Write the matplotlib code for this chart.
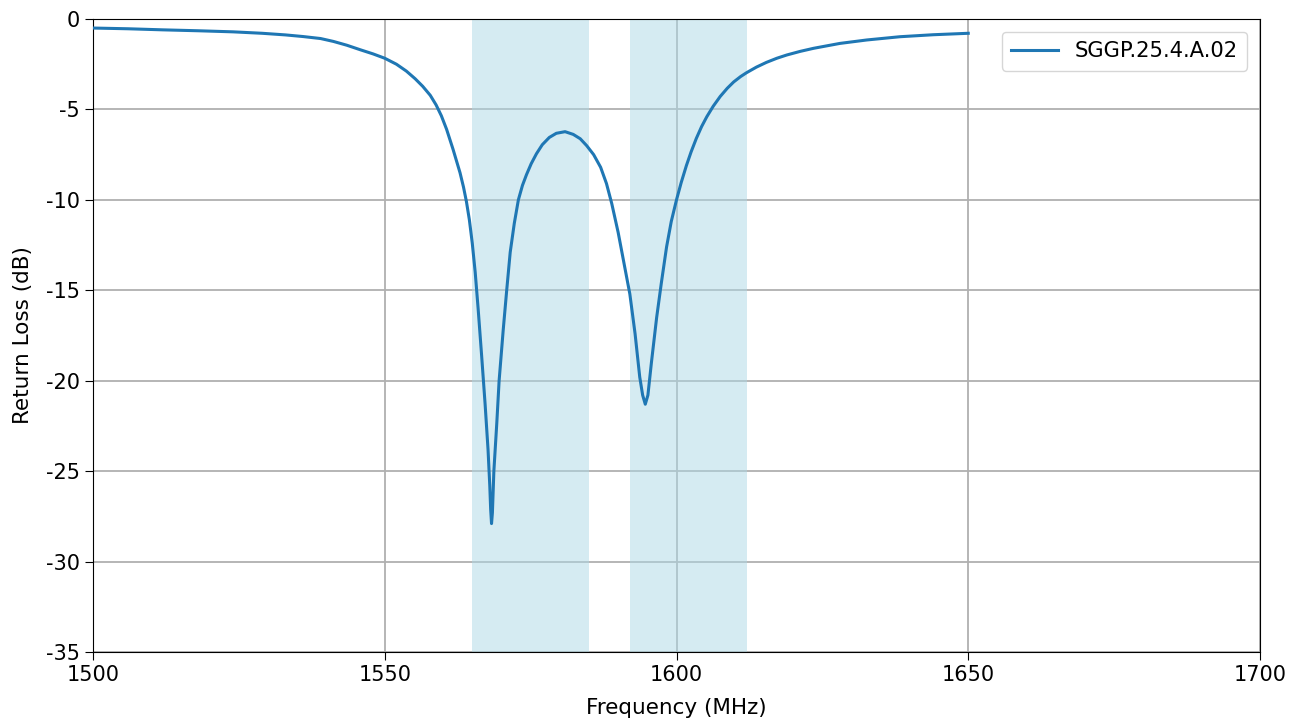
import matplotlib
matplotlib.use("Agg")
import matplotlib.pyplot as plt

plt.rcParams['axes.unicode_minus'] = False
plt.rcParams['font.family'] = ['DejaVu Sans']

freq = [1500, 1506, 1512, 1518, 1524, 1529, 1533, 1536, 1539, 1541.2, 1543.5,
        1545.8, 1548, 1550, 1552, 1553.7, 1555.2, 1556.5, 1557.8, 1558.8, 1559.7,
        1560.6, 1561.7, 1562.9, 1563.5, 1564.0, 1564.5, 1565.0, 1565.5, 1566.0,
        1566.6, 1567.2, 1567.7, 1568.0, 1568.15, 1568.3, 1568.45, 1568.7, 1569.2,
        1569.6, 1570.3, 1570.9, 1571.5, 1572.2, 1572.9, 1573.6, 1574.3, 1575.1,
        1576.0, 1577.0, 1578.2, 1579.4, 1580.9, 1582.3, 1583.5, 1584.6, 1585.8,
        1587.0, 1588.0, 1588.9, 1590.0, 1591.0, 1592.0, 1592.9, 1593.7, 1594.2,
        1594.65, 1595.1, 1595.7, 1596.6, 1597.4, 1598.3, 1599.1, 1600.0, 1600.8,
        1601.7, 1602.5, 1603.4, 1604.3, 1605.2, 1606.3, 1607.5, 1608.7, 1609.8,
        1611.0, 1612.0, 1613.7, 1615.4, 1617.2, 1618.9, 1621.2, 1623.5, 1628.0,
        1632.6, 1638.3, 1644.0, 1650]
return_loss = [-0.50, -0.54, -0.60, -0.65, -0.71, -0.79, -0.88, -0.97, -1.08, -1.24,
               -1.45, -1.70, -1.93, -2.17, -2.50, -2.88, -3.30, -3.72, -4.22, -4.75,
               -5.35, -6.10, -7.20, -8.50, -9.30, -10.1, -11.1, -12.4, -14.0, -16.0,
               -18.6, -21.3, -23.8, -25.8, -27.1, -27.9, -27.3, -25.0, -22.35, -20.0,
               -17.2, -15.0, -12.9, -11.3, -10.0, -9.2, -8.6, -8.0, -7.45, -6.95,
               -6.55, -6.32, -6.23, -6.38, -6.62, -7.0, -7.5, -8.2, -9.1, -10.2,
               -11.8, -13.5, -15.2, -17.4, -19.8, -20.8, -21.3, -20.8, -19.0, -16.5,
               -14.6, -12.6, -11.2, -10.0, -9.05, -8.1, -7.35, -6.6, -5.95, -5.4,
               -4.82, -4.28, -3.83, -3.48, -3.18, -2.97, -2.66, -2.40, -2.17, -1.99,
               -1.79, -1.62, -1.35, -1.16, -0.98, -0.87, -0.79]
bands = [(1565, 1585), (1592, 1612)]
series_label = "SGGP.25.4.A.02"
x_ticks = [1500, 1550, 1600, 1650, 1700]
y_ticks = [0, -5, -10, -15, -20, -25, -30, -35]

fig = plt.figure(figsize=(13.02, 7.27), dpi=100)
ax = fig.add_axes([93/1302, 1-652/727, (1260-93)/1302, (652-19)/727])

for lo, hi in bands:
    ax.axvspan(lo, hi, color='lightblue', alpha=0.5, lw=0, zorder=1)

ax.plot(freq, return_loss, color='#1f77b4', lw=2.2, label=series_label, zorder=3,
        solid_joinstyle='round')

ax.set_xlim(1500, 1700)
ax.set_ylim(-35, 0)
ax.set_xticks(x_ticks)
ax.set_yticks(y_ticks)
ax.grid(True, color='#b0b0b0', lw=1.3, zorder=0)
ax.set_axisbelow(True)
ax.tick_params(labelsize=15, length=6)
ax.set_xlabel("Frequency (MHz)", fontsize=15.5, labelpad=9)
ax.set_ylabel("Return Loss (dB)", fontsize=15.5, labelpad=9)
ax.legend(loc='upper right', fontsize=15.2, borderpad=0.45, handlelength=2.2,
          borderaxespad=0.6)

fig.savefig("out.png", dpi=100)
